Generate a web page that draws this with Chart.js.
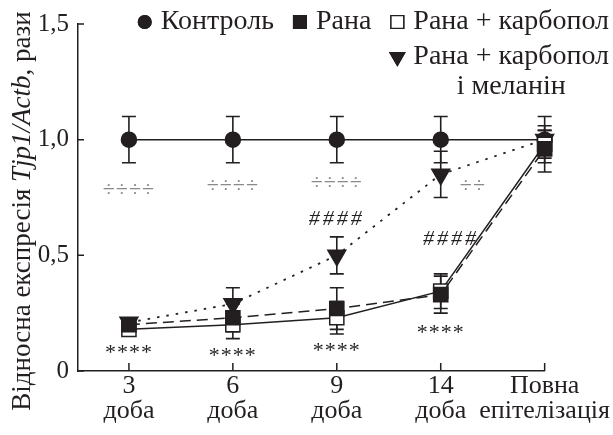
<!DOCTYPE html>
<html>
<head>
<meta charset="utf-8">
<script src="https://cdn.jsdelivr.net/npm/chart.js@4"></script>
<style>
  body { margin: 0; background: #fff; }
  #wrap { width: 613px; height: 435px; }
</style>
</head>
<body>
<div id="wrap"><canvas id="myChart" width="613" height="435"></canvas></div>
<script>
const categories = [['3', 'доба'], ['6', 'доба'], ['9', 'доба'], ['14', 'доба'], ['Повна', 'епітелізація']];
const yTicks = [0, 0.5, 1.0, 1.5];
const yTickLabels = ['0', '0,5', '1,0', '1,5'];

const seriesNames = ['Контроль', 'Рана', 'Рана + карбопол', 'Рана + карбопол\nі меланін'];

const control = [1.0, 1.0, 1.0, 1.0, 1.0];
const controlErr = [0.1, 0.1, 0.1, 0.1, 0.1];
const wound = [0.20, 0.23, 0.27, 0.33, 0.96];
const woundErr = [0.02, 0.06, 0.09, 0.08, 0.1];
const carbopol = [0.18, 0.20, 0.23, 0.345, 0.98];
const carbopolErr = [0.02, 0.06, 0.07, 0.075, 0.06];
const melanin = [0.21, 0.29, 0.50, 0.85, 1.0];
const melaninErr = [0.02, 0.07, 0.08, 0.10, 0.04];

// significance marks: [x, y, text, colour]
const marks = [
    [0, 0.075, '****', '#231f20'], [1, 0.062, '****', '#231f20'], [2, 0.085, '****', '#231f20'], [3, 0.165, '****', '#231f20'],
    [2, 0.655, '####', '#231f20'], [3.1, 0.57, '####', '#231f20'],
    [0, 0.78, '÷÷÷÷', '#8a8a8a'], [1, 0.80, '÷÷÷÷', '#8a8a8a'], [2, 0.81, '÷÷÷÷', '#8a8a8a'], [3.31, 0.80, '÷÷', '#8a8a8a']
];

const ink = '#231f20';
const serif = '"Liberation Serif", "DejaVu Serif", serif';

function pts(values){
    return values.map((v, i) => ({x: i, y: v}));
}

const errors = [controlErr, woundErr, carbopolErr, melaninErr];

const errorBars = {
    id: 'errorBars',
    beforeDatasetsDraw(chart){
        const ctx = chart.ctx;
        const xs = chart.scales.x, ys = chart.scales.y;
        ctx.save();
        ctx.strokeStyle = ink;
        ctx.lineWidth = 1.6;
        chart.data.datasets.forEach((ds, di) => {
            ds.data.forEach((p, i) => {
                const e = errors[di][i];
                const x = xs.getPixelForValue(p.x);
                const y1 = ys.getPixelForValue(p.y + e);
                const y2 = ys.getPixelForValue(p.y - e);
                ctx.beginPath();
                ctx.moveTo(x, y1); ctx.lineTo(x, y2);
                ctx.moveTo(x - 7, y1); ctx.lineTo(x + 7, y1);
                ctx.moveTo(x - 7, y2); ctx.lineTo(x + 7, y2);
                ctx.stroke();
            });
        });
        ctx.restore();
    }
};

const decorations = {
    id: 'decorations',
    afterDraw(chart){
        const ctx = chart.ctx;
        const xs = chart.scales.x, ys = chart.scales.y;
        const area = chart.chartArea;
        ctx.save();
        // inward ticks
        ctx.strokeStyle = ink;
        ctx.lineWidth = 1.5;
        ctx.beginPath();
        yTicks.forEach(v => {
            const y = ys.getPixelForValue(v);
            ctx.moveTo(area.left, y); ctx.lineTo(area.left + 6, y);
        });
        categories.forEach((c, i) => {
            const x = xs.getPixelForValue(i);
            ctx.moveTo(x, area.bottom); ctx.lineTo(x, area.bottom - 8);
        });
        ctx.stroke();

        // significance marks
        ctx.textAlign = 'center';
        ctx.textBaseline = 'middle';
        marks.forEach(m => {
            ctx.fillStyle = m[3];
            if (m[2][0] === '#') {
                ctx.font = 'italic 22px ' + serif;
                ctx.letterSpacing = '3px';
            } else {
                ctx.font = '22px ' + serif;
                ctx.letterSpacing = '1px';
            }
            ctx.fillText(m[2], xs.getPixelForValue(m[0]), ys.getPixelForValue(m[1]));
        });
        ctx.letterSpacing = '0px';

        // y axis title with italic gene names
        const parts = [['Відносна експресія ', ''], ['Tjp1/Actb', 'italic '], [', рази', '']];
        ctx.fillStyle = ink;
        let total = 0;
        parts.forEach(p => { ctx.font = p[1] + '27px ' + serif; total += ctx.measureText(p[0]).width; });
        ctx.translate(23, 211);
        ctx.rotate(-Math.PI / 2);
        ctx.textAlign = 'left';
        let pos = -total / 2;
        parts.forEach(p => {
            ctx.font = p[1] + '27px ' + serif;
            ctx.fillText(p[0], pos, 0);
            pos += ctx.measureText(p[0]).width;
        });
        ctx.restore();

        // legend
        ctx.save();
        ctx.font = '28px ' + serif;
        ctx.textBaseline = 'middle';
        ctx.textAlign = 'left';
        ctx.fillStyle = ink;
        const right = 609;
        const row1 = [0, 1, 2];
        let x = right;
        const placed = [];
        for (let k = row1.length - 1; k >= 0; k--) {
            const di = row1[k];
            const w = ctx.measureText(seriesNames[di]).width;
            x -= w;
            placed.push([di, x, 22]);
            x -= 42;
        }
        const lines = seriesNames[3].split('\n');
        const w2 = ctx.measureText(lines[0]).width;
        placed.push([3, right - w2, 57]);
        placed.forEach(([di, tx, ty]) => {
            const ds = chart.data.datasets[di];
            ctx.fillStyle = ink;
            ctx.fillText(seriesNames[di].split('\n')[0], tx, ty);
            Chart.helpers.drawPoint(ctx, {
                pointStyle: ds.pointStyle,
                radius: ds.pointStyle === 'rect' ? 9 : ds.pointRadius * 0.85,
                rotation: ds.pointRotation || 0,
                borderWidth: ds.pointBorderWidth || 1
            }, tx - 16, ty);
            ctx.fillStyle = ds.pointBackgroundColor;
            ctx.strokeStyle = ds.pointBorderColor;
            ctx.lineWidth = 1.3;
            ctx.fill();
            ctx.stroke();
        });
        ctx.fillStyle = ink;
        ctx.textAlign = 'center';
        ctx.fillText(lines[1], right - w2 / 2, 87);
        ctx.restore();
    }
};

const datasets = [
    {
        label: seriesNames[0], data: pts(control), order: 4,
        borderColor: ink, borderWidth: 1.5,
        pointStyle: 'circle', pointRadius: 7.5,
        pointBackgroundColor: ink, pointBorderColor: ink
    },
    {
        label: seriesNames[1], data: pts(wound), order: 1,
        borderColor: ink, borderWidth: 1.5, borderDash: [11, 6],
        pointStyle: 'rect', pointRadius: 10,
        pointBackgroundColor: ink, pointBorderColor: ink
    },
    {
        label: seriesNames[2], data: pts(carbopol), order: 2,
        borderColor: ink, borderWidth: 1.5,
        pointStyle: 'rect', pointRadius: 10, pointBorderWidth: 1.5,
        pointBackgroundColor: '#fff', pointBorderColor: ink
    },
    {
        label: seriesNames[3], data: pts(melanin), order: 3,
        borderColor: ink, borderWidth: 1.8, borderDash: [2.5, 7],
        pointStyle: 'triangle', pointRotation: 180, pointRadius: 10,
        pointBackgroundColor: ink, pointBorderColor: ink
    }
];

const myChart = new Chart(document.querySelector('#myChart').getContext('2d'), {
    type: 'line',
    data: { datasets: datasets },
    plugins: [errorBars, decorations],
    options: {
        responsive: false,
        animation: false,
        layout: { padding: { left: 0, right: 68, top: 23, bottom: 0 } },
        plugins: { legend: { display: false }, tooltip: { enabled: false } },
        elements: { line: { tension: 0 } },
        datasets: { line: { clip: false } },
        scales: {
            x: {
                type: 'linear', min: -0.49, max: 4,
                afterBuildTicks: s => { s.ticks = categories.map((c, i) => ({value: i})); },
                afterFit: s => { s.height = 64; },
                grid: { display: false, drawTicks: false },
                border: { display: true, color: ink, width: 1.5 },
                ticks: {
                    color: ink, padding: 3, maxRotation: 0, autoSkip: false,
                    font: { family: serif, size: 26, lineHeight: 0.96 },
                    callback: v => categories[v]
                }
            },
            y: {
                min: 0, max: 1.5,
                afterBuildTicks: s => { s.ticks = yTicks.map(v => ({value: v})); },
                afterFit: s => { s.width = 78; },
                grid: { display: false, drawTicks: false },
                border: { display: true, color: ink, width: 1.5 },
                ticks: {
                    color: ink, padding: 9,
                    font: { family: serif, size: 25 },
                    callback: v => yTickLabels[yTicks.indexOf(v)]
                }
            }
        }
    }
});
</script>
</body>
</html>
